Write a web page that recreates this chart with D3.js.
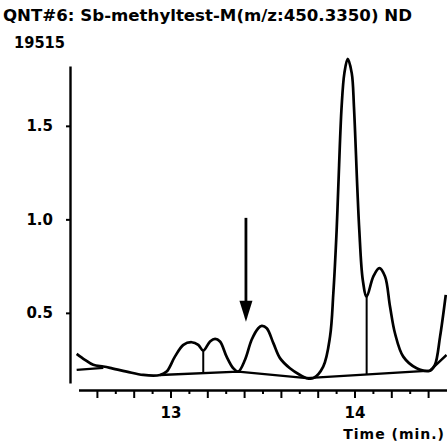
<html>
<head>
  <meta charset="UTF-8">
  <script src="https://d3js.org/d3.v7.min.js"></script>
  <style>
    body { margin: 0; background: #fff; }
    text { font-family: "DejaVu Sans", sans-serif; font-weight: bold; fill: #000; }
  </style>
</head>
<body>
  <svg id="chart" width="447" height="442"></svg>
  <script>
    // Title strings
    const titleText = "QNT#6: Sb-methyltest-M(m/z:450.3350) ND";
    const fullScale = "19515";
    const xTitle = "Time (min.)";

    // Chromatogram trace (time in min, relative intensity)
    const traceTime = [12.49, 12.535, 12.58, 12.635, 12.671, 12.762, 12.852, 12.943, 12.979, 13.024,
      13.07, 13.115, 13.151, 13.178, 13.215, 13.242, 13.269, 13.305, 13.341, 13.368,
      13.405, 13.441, 13.477, 13.496, 13.523, 13.559, 13.595, 13.649, 13.704, 13.74,
      13.776, 13.83, 13.867, 13.885, 13.903, 13.912, 13.93, 13.945, 13.963, 13.985,
      13.997, 14.015, 14.026, 14.045, 14.066, 14.102, 14.135, 14.166, 14.193, 14.22,
      14.265, 14.338, 14.41, 14.437, 14.465, 14.496];
    const traceValue = [0.281, 0.249, 0.222, 0.213, 0.206, 0.186, 0.168, 0.168, 0.186, 0.266,
      0.329, 0.343, 0.329, 0.298, 0.347, 0.361, 0.347, 0.266, 0.204, 0.186,
      0.249, 0.356, 0.418, 0.43, 0.418, 0.338, 0.258, 0.204, 0.168, 0.151,
      0.151, 0.213, 0.373, 0.605, 0.944, 1.175, 1.603, 1.782, 1.858, 1.782,
      1.603, 1.175, 0.944, 0.676, 0.587, 0.694, 0.739, 0.694, 0.534, 0.391,
      0.266, 0.204, 0.191, 0.222, 0.373, 0.596];

    // Integration baseline pieces
    const baseStartTime = [12.49, 12.635];
    const baseStartValue = [0.195, 0.206];
    const baseTime = [12.943, 13.368, 13.74, 14.41, 14.5];
    const baseValue = [0.168, 0.186, 0.151, 0.191, 0.275];

    // Peak split (drop) lines: time, top, bottom
    const dropTime = [13.178, 14.066];
    const dropTop = [0.298, 0.587];
    const dropBottom = [0.176, 0.172];

    // Arrow marking the compound: time, from, to
    const arrowTime = 13.41;
    const arrowFrom = 1.008;
    const arrowTo = 0.452;

    // Axis ticks
    const yTicks = [0.5, 1.0, 1.5];
    const xTicks = d3.range(126, 145).map(d => d / 10);
    const xLabels = [13, 14];

    const svg = d3.select("#chart");

    const x = d3.scaleLinear().domain([12.5, 14.5]).range([78.5, 446.5]);
    const y = d3.scaleLinear().domain([0.125, 1.82]).range([383, 66]);

    // title and full-scale value
    svg.append("text").attr("x", 3).attr("y", 21).attr("font-size", 15)
      .attr("textLength", 409).attr("lengthAdjust", "spacingAndGlyphs").text(titleText);
    svg.append("text").attr("x", 14).attr("y", 48).attr("font-size", 15)
      .attr("textLength", 51).attr("lengthAdjust", "spacingAndGlyphs").text(fullScale);

    // Y axis
    const yAxis = svg.append("g")
      .attr("transform", "translate(70,0)")
      .call(d3.axisLeft(y).tickValues(yTicks).tickFormat(d3.format(".1f")).tickSize(4).tickSizeOuter(0).tickPadding(13));
    yAxis.select(".domain").attr("stroke-width", 2.4);
    yAxis.selectAll(".tick line").attr("stroke-width", 2);
    yAxis.selectAll(".tick text").attr("font-size", 15).attr("font-family", "DejaVu Sans").attr("font-weight", "bold");

    // X axis
    const xAxis = svg.append("g")
      .attr("transform", "translate(0,390)")
      .call(d3.axisBottom(x).tickValues(xTicks)
        .tickFormat(d => xLabels.includes(Math.round(d * 10) / 10) ? d3.format("d")(d) : "")
        .tickSize(8).tickSizeOuter(0).tickPadding(9));
    xAxis.select(".domain").attr("stroke-width", 2.6);
    xAxis.selectAll(".tick line")
      .attr("stroke-width", 2)
      .attr("y2", d => Math.round(d * 10) % 2 === 0 ? 8 : 4);
    xAxis.selectAll(".tick text").attr("font-size", 15).attr("font-family", "DejaVu Sans").attr("font-weight", "bold");

    svg.append("text").attr("x", 445).attr("y", 439).attr("font-size", 14)
      .attr("text-anchor", "end").attr("letter-spacing", 1).text(xTitle);

    // trace
    const line = d3.line().x(d => x(d[0])).y(d => y(d[1])).curve(d3.curveCatmullRom.alpha(0.5));
    const trace = traceTime.map((t, i) => [t, traceValue[i]]);
    svg.append("path").datum(trace).attr("d", line)
      .attr("fill", "none").attr("stroke", "#000").attr("stroke-width", 2.7).attr("stroke-linejoin", "round");

    // baseline
    const straight = d3.line().x(d => x(d[0])).y(d => y(d[1]));
    svg.append("path").datum(baseStartTime.map((t, i) => [t, baseStartValue[i]])).attr("d", straight)
      .attr("fill", "none").attr("stroke", "#000").attr("stroke-width", 2.4);
    svg.append("path").datum(baseTime.map((t, i) => [t, baseValue[i]])).attr("d", straight)
      .attr("fill", "none").attr("stroke", "#000").attr("stroke-width", 2.4);

    // drop lines
    svg.selectAll(".drop").data(dropTime).enter().append("line")
      .attr("x1", d => x(d)).attr("x2", d => x(d))
      .attr("y1", (d, i) => y(dropTop[i])).attr("y2", (d, i) => y(dropBottom[i]))
      .attr("stroke", "#000").attr("stroke-width", 2);

    // arrow
    const ax = x(arrowTime);
    svg.append("line").attr("x1", ax).attr("x2", ax)
      .attr("y1", y(arrowFrom)).attr("y2", y(arrowTo) - 15)
      .attr("stroke", "#000").attr("stroke-width", 2.8);
    svg.append("path")
      .attr("d", `M${ax - 6.5},${y(arrowTo) - 21} L${ax + 6.5},${y(arrowTo) - 21} L${ax},${y(arrowTo)} Z`)
      .attr("fill", "#000");
  </script>
</body>
</html>
